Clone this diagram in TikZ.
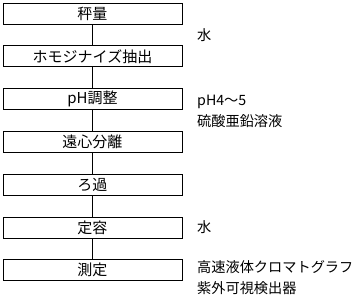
\documentclass[tikz,border=0pt]{standalone}
\usepackage{fontspec}
\setmainfont{Noto Sans CJK JP}
\usetikzlibrary{positioning}

\begin{document}
\begin{tikzpicture}[x=1pt, y=1pt, node distance=21pt,
    box/.style={draw, rectangle, line width=0.8pt, minimum width=179pt, minimum height=21pt, inner sep=0pt, font=\fontsize{15}{15}\selectfont},
    note/.style={anchor=west, align=left, inner sep=0pt, font=\fontsize{14.2}{21}\selectfont}]
    \useasboundingbox (0,0) rectangle (357,-299);
    % Steps
    \node[box] (weigh) at (92.5,-13.5) {秤量};
    \node[box, below=of weigh] (homog) {ホモジナイズ抽出};
    \node[box, below=of homog] (ph) {pH調整};
    \node[box, below=of ph] (centr) {遠心分離};
    \node[box, below=of centr] (filt) {ろ過};
    \node[box, below=of filt] (vol) {定容};
    \node[box, below=of vol] (meas) {測定};
    \foreach \a/\b in {weigh/homog, homog/ph, ph/centr, centr/filt, filt/vol, vol/meas}
        \draw[line width=0.8pt] (\a.south) -- (\b.north);

    % Notes
    \node[note] (water1) at (197,-35) {水};
    \node[note] (reagent) at (197,-111) {pH4～5\\硫酸亜鉛溶液};
    \node[note] (water2) at (197,-227) {水};
    \node[note] (detect) at (197,-278) {高速液体クロマトグラフ\\紫外可視検出器};
\end{tikzpicture}
\end{document}
